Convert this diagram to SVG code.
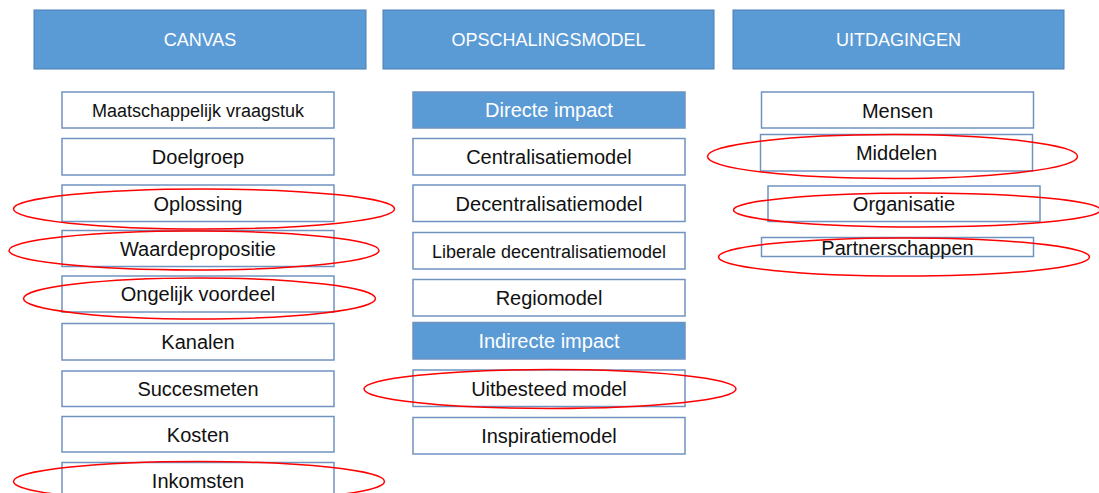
<svg xmlns="http://www.w3.org/2000/svg" width="1099" height="493" viewBox="0 0 1099 493">
<style>
.hdr{fill:#5B9BD5;stroke:#4A7EB5;stroke-width:1}
.sub{fill:#5B9BD5;stroke:#6F93C0;stroke-width:1.5}
.box{fill:#fff;stroke:#6F93C0;stroke-width:1.5}
.ht{font-family:"Liberation Sans",Arial,sans-serif;font-size:18px;fill:#fff;text-anchor:middle}
.t{font-family:"Liberation Sans",Arial,sans-serif;font-size:20px;fill:#111;text-anchor:middle}
.ts{font-family:"Liberation Sans",Arial,sans-serif;font-size:18px;fill:#111;text-anchor:middle}
.tw{font-family:"Liberation Sans",Arial,sans-serif;font-size:20px;fill:#fff;text-anchor:middle}
.hl{fill:none;stroke:#FF0000;stroke-width:1.5}
</style>
<rect width="1099" height="493" fill="#fff"/>
<g id="hdr-canvas"><rect class="hdr" x="34" y="10" width="332" height="59"/><text class="ht" x="200" y="46">CANVAS</text></g>
<g id="hdr-opschaling"><rect class="hdr" x="383" y="10" width="331" height="59"/><text class="ht" x="548.5" y="46">OPSCHALINGSMODEL</text></g>
<g id="hdr-uitdagingen"><rect class="hdr" x="733" y="10" width="331" height="59"/><text class="ht" x="898.5" y="46">UITDAGINGEN</text></g>

<g id="c-maatschappelijk"><rect class="box" x="62" y="92" width="272" height="36"/><text class="ts" x="198" y="117">Maatschappelijk vraagstuk</text></g>
<g id="c-doelgroep"><rect class="box" x="62" y="138.5" width="272" height="36.5"/><text class="t" x="198" y="164">Doelgroep</text></g>
<g id="c-oplossing"><rect class="box" x="62" y="185" width="272" height="36.5"/><text class="t" x="198" y="210.5">Oplossing</text></g>
<g id="c-waardepropositie"><rect class="box" x="62" y="230.5" width="272" height="36"/><text class="t" x="198" y="255.5">Waardepropositie</text></g>
<g id="c-ongelijk"><rect class="box" x="62" y="276" width="272" height="36"/><text class="t" x="198" y="301">Ongelijk voordeel</text></g>
<g id="c-kanalen"><rect class="box" x="62" y="323.5" width="272" height="36.5"/><text class="t" x="198" y="349">Kanalen</text></g>
<g id="c-succesmeten"><rect class="box" x="62" y="371" width="272" height="35.5"/><text class="t" x="198" y="396">Succesmeten</text></g>
<g id="c-kosten"><rect class="box" x="62" y="416.5" width="272" height="35.5"/><text class="t" x="198" y="441.5">Kosten</text></g>
<g id="c-inkomsten"><rect class="box" x="62" y="462.5" width="272" height="36"/><text class="t" x="198" y="488">Inkomsten</text></g>

<g id="m-directe"><rect class="sub" x="413" y="92" width="272" height="36"/><text class="tw" x="549" y="117">Directe impact</text></g>
<g id="m-centralisatie"><rect class="box" x="413" y="138.5" width="272" height="36.5"/><text class="t" x="549" y="164">Centralisatiemodel</text></g>
<g id="m-decentralisatie"><rect class="box" x="413" y="185" width="272" height="36.5"/><text class="t" x="549" y="210.5">Decentralisatiemodel</text></g>
<g id="m-liberale"><rect class="box" x="413" y="232.5" width="272" height="36.5"/><text class="ts" x="549" y="257.5">Liberale decentralisatiemodel</text></g>
<g id="m-regiomodel"><rect class="box" x="413" y="279.5" width="272" height="36.5"/><text class="t" x="549" y="305">Regiomodel</text></g>
<g id="m-indirecte"><rect class="sub" x="413" y="322.5" width="272" height="36.5"/><text class="tw" x="549" y="348">Indirecte impact</text></g>
<g id="m-uitbesteed"><rect class="box" x="413" y="370" width="272" height="36.5"/><text class="t" x="549" y="395.5">Uitbesteed model</text></g>
<g id="m-inspiratie"><rect class="box" x="413" y="417.5" width="272" height="36.5"/><text class="t" x="549" y="443">Inspiratiemodel</text></g>

<g id="u-mensen"><rect class="box" x="761.5" y="92" width="272" height="36"/><text class="t" x="897.5" y="117.5">Mensen</text></g>
<g id="u-middelen"><rect class="box" x="760.5" y="134.5" width="272" height="36.5"/><text class="t" x="896.5" y="160">Middelen</text></g>
<g id="u-organisatie"><rect class="box" x="768" y="186" width="272" height="35.5"/><text class="t" x="904" y="211">Organisatie</text></g>
<g id="u-partnerschappen"><rect class="box" x="761.5" y="237.5" width="272" height="19"/><text class="t" x="897.5" y="255">Partnerschappen</text></g>

<g id="highlights">
<ellipse class="hl" cx="204" cy="209" rx="190.5" ry="20"/>
<ellipse class="hl" cx="194" cy="250.5" rx="185" ry="19.5"/>
<ellipse class="hl" cx="199.5" cy="298.5" rx="176" ry="20.5"/>
<ellipse class="hl" cx="199" cy="481.5" rx="185.5" ry="20"/>
<ellipse class="hl" cx="550" cy="389" rx="186" ry="19.5"/>
<ellipse class="hl" cx="892.5" cy="156.5" rx="185" ry="22"/>
<ellipse class="hl" cx="917" cy="210" rx="183.5" ry="17"/>
<ellipse class="hl" cx="904" cy="257" rx="185.5" ry="19"/>
</g>
</svg>
